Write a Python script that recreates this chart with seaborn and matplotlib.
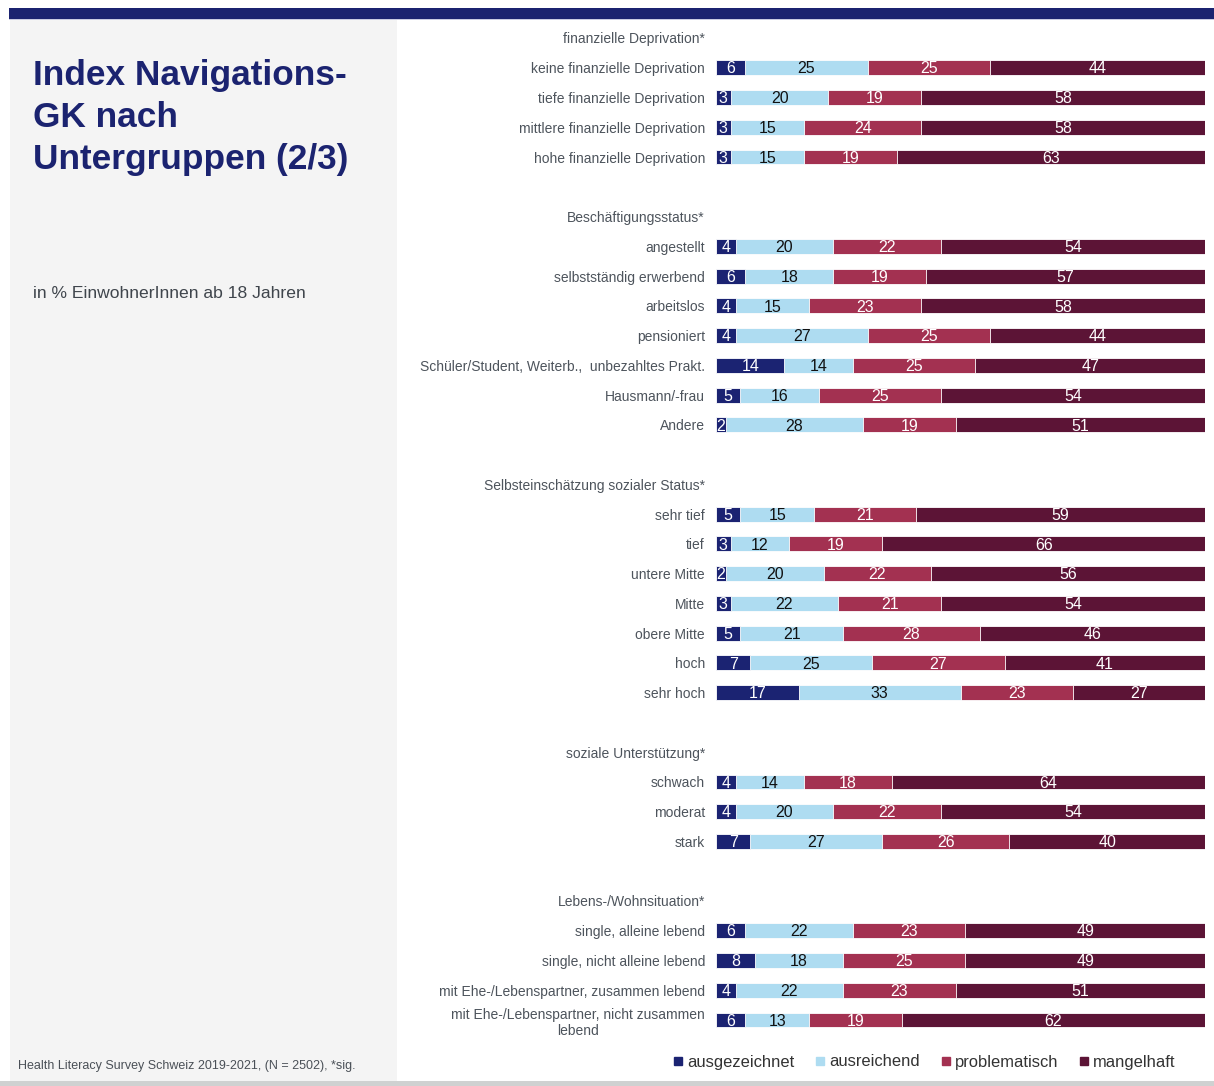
import numpy as np
import pandas as pd
import matplotlib
matplotlib.use("Agg")
import matplotlib.pyplot as plt
from matplotlib.patches import Rectangle
from matplotlib.lines import Line2D
import seaborn as sns

# ---- data -------------------------------------------------------------
categories = ["ausgezeichnet", "ausreichend", "problematisch", "mangelhaft"]
colors = ["#1b2372", "#aedcf1", "#a33151", "#5c1436"]
text_colors = ["white", "#111111", "white", "white"]

groups = [
    "finanzielle Deprivation*",
    "Beschäftigungsstatus*",
    "Selbsteinschätzung sozialer Status*",
    "soziale Unterstützung*",
    "Lebens-/Wohnsituation*",
]

labels_fin = ["keine finanzielle Deprivation", "tiefe finanzielle Deprivation",
              "mittlere finanzielle Deprivation", "hohe finanzielle Deprivation"]
values_fin = [[6, 25, 25, 44], [3, 20, 19, 58], [3, 15, 24, 58], [3, 15, 19, 63]]

labels_job = ["angestellt", "selbstständig erwerbend", "arbeitslos", "pensioniert",
              "Schüler/Student, Weiterb.,  unbezahltes Prakt.", "Hausmann/-frau", "Andere"]
values_job = [[4, 20, 22, 54], [6, 18, 19, 57], [4, 15, 23, 58], [4, 27, 25, 44],
              [14, 14, 25, 47], [5, 16, 25, 54], [2, 28, 19, 51]]

labels_status = ["sehr tief", "tief", "untere Mitte", "Mitte", "obere Mitte", "hoch", "sehr hoch"]
values_status = [[5, 15, 21, 59], [3, 12, 19, 66], [2, 20, 22, 56], [3, 22, 21, 54],
                 [5, 21, 28, 46], [7, 25, 27, 41], [17, 33, 23, 27]]

labels_support = ["schwach", "moderat", "stark"]
values_support = [[4, 14, 18, 64], [4, 20, 22, 54], [7, 27, 26, 40]]

labels_living = ["single, alleine lebend", "single, nicht alleine lebend",
                 "mit Ehe-/Lebenspartner, zusammen lebend",
                 "mit Ehe-/Lebenspartner, nicht zusammen\nlebend"]
values_living = [[6, 22, 23, 49], [8, 18, 25, 49], [4, 22, 23, 51], [6, 13, 19, 62]]

group_labels = [labels_fin, labels_job, labels_status, labels_support, labels_living]
group_values = [values_fin, values_job, values_status, values_support, values_living]

# ---- build row order (header, rows, blank spacer) ------------------------
slots, shown = [], []
rows = []
for gi, (g, labs, vals) in enumerate(zip(groups, group_labels, group_values)):
    slots.append(g)
    shown.append(g)
    for lab, v in zip(labs, vals):
        slots.append(lab)
        shown.append(lab)
        cum = np.cumsum(v)
        rows.append({"row": lab, **{f"v{i}": v[i] for i in range(4)},
                     **{f"c{i}": cum[i] for i in range(4)}})
    if gi < len(groups) - 1:
        blank = " " * (gi + 1)
        slots.append(blank)
        shown.append("")
df = pd.DataFrame(rows)

# ---- figure -----------------------------------------------------------
sns.set_theme(style="white")
plt.rcParams["font.family"] = ["Liberation Sans", "DejaVu Sans"]

W, H = 1214, 1086
fig = plt.figure(figsize=(W / 100, H / 100), dpi=100)
fig.patch.set_facecolor("white")

def px_rect(x0, y0, x1, y1, color, z=0):
    fig.patches.append(Rectangle((x0 / W, 1 - y1 / H), (x1 - x0) / W, (y1 - y0) / H,
                                 transform=fig.transFigure, facecolor=color,
                                 edgecolor="none", zorder=z))

px_rect(10, 19, 397, 1081, "#f4f4f4")
px_rect(9, 8, W, 18.5, "#1b2370")
px_rect(9, 18.5, W, 20, "#c9cbe2")
px_rect(0, 1081, W, H, "#cfd1d1")

navy = "#1b2370"
for y, line in zip([85, 127, 169], ["Index Navigations-", "GK nach", "Untergruppen (2/3)"]):
    fig.text(33 / W, 1 - y / H, line, fontsize=25.4, fontweight="bold", color=navy,
             ha="left", va="baseline")
fig.text(33 / W, 1 - 293 / H, "in % EinwohnerInnen ab 18 Jahren", fontsize=12.6,
         color="#3f454c", ha="left", va="center")
fig.text(18 / W, 1 - 1066 / H, "Health Literacy Survey Schweiz 2019-2021, (N = 2502), *sig.",
         fontsize=9.0, color="#4a5057", ha="left", va="center")

# axes placed so each slot is ~29.76 px tall starting at y=38
n = len(slots)
step = (1020 - 38) / (n - 1)
top_px = 38 - step / 2
bot_px = 1020 + step / 2
ax = fig.add_axes([716 / W, 1 - bot_px / H, 489 / W, (bot_px - top_px) / H])
ax.set_facecolor("none")

# stacked bars: draw cumulative totals from the outermost inwards
for i in range(3, -1, -1):
    sns.barplot(data=df, x=f"c{i}", y="row", order=slots, orient="h",
                color=colors[i], saturation=1, width=0.5, errorbar=None,
                edgecolor="white", linewidth=0.6, ax=ax)

pos = {lab: k for k, lab in enumerate(slots)}
for _, r in df.iterrows():
    y = pos[r["row"]]
    start = 0
    for i in range(4):
        v = r[f"v{i}"]
        ax.text(start + v / 2, y + 0.04, f"{v}", ha="center", va="center",
                fontsize=11.5, color=text_colors[i])
        start += v

ax.set_xlim(0, 100)
ax.set_ylim(n - 0.5, -0.5)
ax.set_xlabel("")
ax.set_ylabel("")
ax.set_xticks([])
ax.set_yticks(range(n))
ax.set_yticklabels(shown, fontsize=10, color="#4d545c")
ax.tick_params(axis="y", length=0, pad=8)
for t in ax.get_yticklabels():
    if "\n" in t.get_text():
        t.set_multialignment("center")
sns.despine(ax=ax, left=True, bottom=True)

handles = [Line2D([], [], marker="s", linestyle="none", markersize=6,
                  markerfacecolor=c, markeredgecolor=c) for c in colors]
fig.legend(handles, categories, loc="center", bbox_to_anchor=(923 / W, 1 - 1062 / H),
           ncol=4, frameon=False, fontsize=11.9, handletextpad=0.1, columnspacing=1.12,
           labelcolor="#333333", handlelength=0.9)

fig.savefig("out.png", dpi=100)
